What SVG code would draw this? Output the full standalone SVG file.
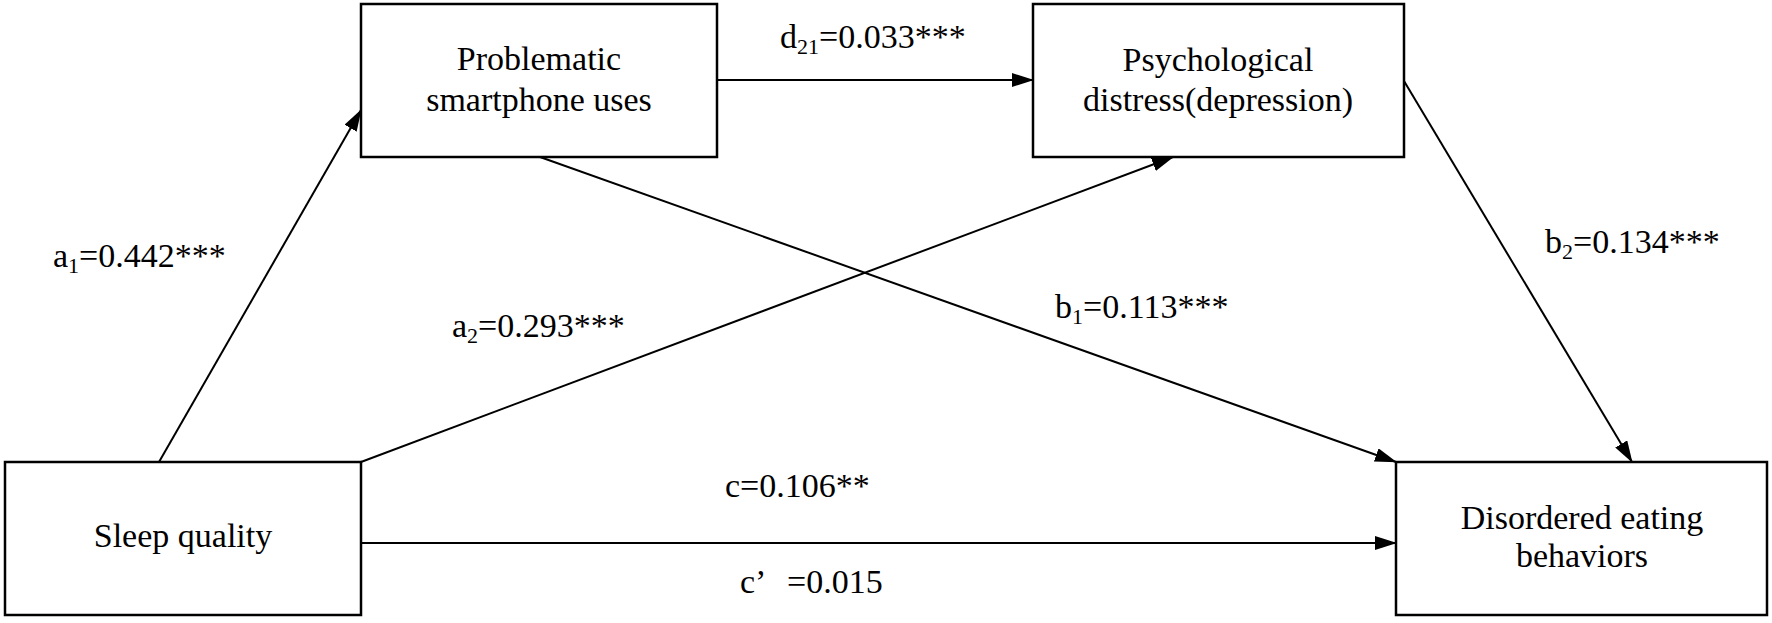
<svg xmlns="http://www.w3.org/2000/svg" width="1772" height="623" viewBox="0 0 1772 623">
<style>
.box{fill:#fff;stroke:#000;stroke-width:2.5}
.t{font-family:"Liberation Serif","Times New Roman",serif;font-size:34px;fill:#000}
.c{text-anchor:middle}
.ln{stroke:#000;stroke-width:2;fill:none;marker-end:url(#ah)}
</style>
<defs>
<marker id="ah" markerWidth="22" markerHeight="14" refX="21" refY="7" orient="auto" markerUnits="userSpaceOnUse">
<path d="M0,0 L22,7 L0,14 Z" fill="#000"/>
</marker>
</defs>
<rect width="1772" height="623" fill="#fff"/>
<g id="connectors">
<line class="ln" x1="159" y1="462" x2="361" y2="110"/>
<line class="ln" x1="717" y1="80" x2="1033" y2="80"/>
<line class="ln" x1="361" y1="462" x2="1173" y2="157"/>
<line class="ln" x1="540" y1="157" x2="1396" y2="462"/>
<line class="ln" x1="1404" y1="81" x2="1632" y2="462"/>
<line class="ln" x1="361" y1="543" x2="1396" y2="543"/>
</g>
<g id="labels">
<text class="t" x="53" y="267">a<tspan font-size="22" dy="6">1</tspan><tspan dy="-6">=0.442***</tspan></text>
<text class="t" x="780" y="48">d<tspan font-size="22" dy="6">21</tspan><tspan dy="-6">=0.033***</tspan></text>
<text class="t" x="452" y="337">a<tspan font-size="22" dy="6">2</tspan><tspan dy="-6">=0.293***</tspan></text>
<text class="t" x="1055" y="318">b<tspan font-size="22" dy="6">1</tspan><tspan dy="-6">=0.113***</tspan></text>
<text class="t" x="1545" y="253">b<tspan font-size="22" dy="6">2</tspan><tspan dy="-6">=0.134***</tspan></text>
<text class="t" x="725" y="497">c=0.106**</text>
<text class="t" x="740" y="593">c’<tspan x="787">=0.015</tspan></text>
</g>
<g id="node-smartphone">
<rect class="box" x="361" y="4" width="356" height="153"/>
<text class="t c" x="539" y="70">Problematic</text>
<text class="t c" x="539" y="111">smartphone uses</text>
</g>
<g id="node-distress">
<rect class="box" x="1033" y="4" width="371" height="153"/>
<text class="t c" x="1218" y="71">Psychological</text>
<text class="t c" x="1218" y="111">distress(depression)</text>
</g>
<g id="node-sleep">
<rect class="box" x="5" y="462" width="356" height="153"/>
<text class="t c" x="183" y="547">Sleep quality</text>
</g>
<g id="node-eating">
<rect class="box" x="1396" y="462" width="371" height="153"/>
<text class="t c" x="1582" y="529">Disordered eating</text>
<text class="t c" x="1582" y="567">behaviors</text>
</g>
</svg>
